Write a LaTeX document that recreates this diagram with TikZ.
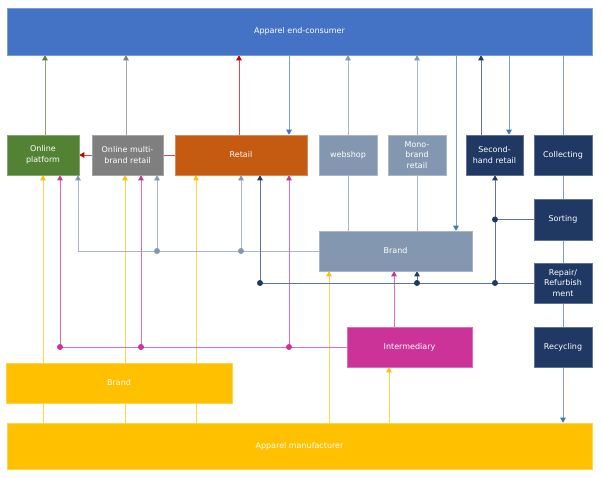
\documentclass[tikz,border=0pt]{standalone}
\usepackage{fontspec}
\setmainfont{DejaVu Sans}
\usepackage{xcolor}
\usetikzlibrary{arrows.meta}
\usetikzlibrary{backgrounds}
\definecolor{cblue}{HTML}{4472C4}
\definecolor{cgreen}{HTML}{548235}
\definecolor{cgray}{HTML}{7F7F7F}
\definecolor{corange}{HTML}{C55A11}
\definecolor{cred}{HTML}{C00000}
\definecolor{csteel}{HTML}{8497B0}
\definecolor{cnavy}{HTML}{1F3864}
\definecolor{cmag}{HTML}{CC3399}
\definecolor{cyellow}{HTML}{FFC000}
\tikzset{
    box/.style={draw=#1!70!white, fill=#1, text=white, align=center, inner sep=0pt,
                line width=0.6pt, font=\fontsize{8}{10.5}\selectfont},
    link/.style={draw=#1!70!white, line width=0.9pt},
    arr/.style={link=#1, -{Triangle[length=5pt,width=5.5pt,color=#1]}}
}

\begin{document}
\begin{tikzpicture}[x=1pt,y=-1pt]
    \def\r{3pt}
    \useasboundingbox (0,0) rectangle (602,477);
    \node [box=cblue, minimum width=585, minimum height=47] (consumer) at (299.5,31.5) {Apparel end-consumer};
    \foreach \n/\x/\w/\c/\t in {oplat/43/72/cgreen/{Online\\platform},
            omulti/127.5/71/cgray/{Online multi-\\brand retail},
            retail/241/132/corange/Retail, webshop/348/58/csteel/webshop,
            mono/417/58/csteel/{Mono-\\brand\\retail}, second/494.5/57/cnavy/{Second-\\hand retail},
            collect/563/58/cnavy/Collecting}
        \node [box=\c, minimum width=\w, minimum height=40] (\n) at (\x,155) {\t};
    \node [box=cnavy, minimum width=58, minimum height=41] (sort) at (563,219.5) {Sorting};
    \node [box=cnavy, minimum width=58, minimum height=40] (repair) at (563,283) {Repair/\\Refurbish\\ment};
    \node [box=cnavy, minimum width=58, minimum height=40] (recyc) at (563,347) {Recycling};
    \node [box=csteel, minimum width=153, minimum height=40] (brandm) at (395.5,251) {Brand};
    \node [box=cmag, minimum width=125, minimum height=40] (inter) at (409.5,347) {Intermediary};
    \node [box=cyellow, minimum width=226, minimum height=40] (brandy) at (119,383) {Brand};
    \node [box=cyellow, minimum width=585, minimum height=46] (manuf) at (299.5,446) {Apparel manufacturer};

    \begin{scope}[on background layer]
    \foreach \x/\n/\c in {45/oplat/cgreen, 126/omulti/cgray, 239/retail/cred,
            348/webshop/csteel, 417/mono/csteel, 481/second/cnavy}
        \draw [arr=\c] (\x,0 |- \n.north) -- (\x,0 |- consumer.south);
    \foreach \x/\n in {289/retail, 456/brandm, 509/second}
        \draw [arr=cblue] (\x,0 |- consumer.south) -- (\x,0 |- \n.north);
    \draw [link=cblue] (consumer.south -| collect.north) -- (collect.north)
        (collect.south) -- (sort.north) (sort.south) -- (repair.north) (repair.south) -- (recyc.north);
    \draw [arr=cblue] (recyc.south) -- (recyc.south |- manuf.north);
    \draw [arr=cred] (retail.west) -- (oplat.east);
    \foreach \x/\n in {43/oplat, 125/omulti, 196/retail, 329/brandm, 389/inter}
        \draw [arr=cyellow] (\x,0 |- manuf.north) -- (\x,0 |- \n.south);
    \draw [arr=csteel] (brandm.west) -| (78,0 |- oplat.south);
    \foreach \x/\n in {157/omulti, 241/retail}{
        \draw [arr=csteel] (\x,0 |- brandm.west) -- (\x,0 |- \n.south);
        \fill [csteel] (\x,0 |- brandm.west) circle [radius=\r];
    }
    \foreach \x/\n in {348/webshop, 417/mono}
        \draw [link=csteel] (\x,0 |- \n.south) -- (\x,0 |- brandm.north);
    \draw [link=cmag] (inter.west) -- (60,0 |- inter.west);
    \foreach \x/\n in {60/oplat, 141/omulti, 289/retail}{
        \draw [arr=cmag] (\x,0 |- inter.west) -- (\x,0 |- \n.south);
        \fill [cmag] (\x,0 |- inter.west) circle [radius=\r];
    }
    \draw [arr=cmag] (394,0 |- inter.north) -- (394,0 |- brandm.south);
    \draw [link=cnavy] (repair.west) -- (260,0 |- repair.west);
    \foreach \x/\n in {260/retail, 417/brandm, 495/second}{
        \draw [arr=cnavy] (\x,0 |- repair.west) -- (\x,0 |- \n.south);
        \fill [cnavy] (\x,0 |- repair.west) circle [radius=\r];
    }
    \draw [link=cnavy] (sort.west) -- (495,0 |- sort.west);
    \fill [cnavy] (495,0 |- sort.west) circle [radius=\r];
    \end{scope}
\end{tikzpicture}
\end{document}
